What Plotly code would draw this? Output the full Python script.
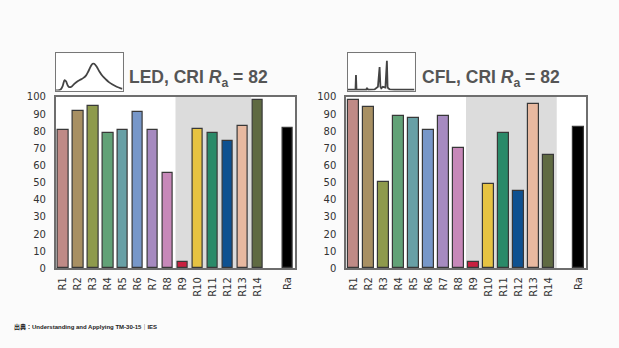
import plotly.graph_objects as go

# Colour rendering indices R1..R14 and the general index Ra
labels = ["R1", "R2", "R3", "R4", "R5", "R6", "R7", "R8", "R9", "R10",
          "R11", "R12", "R13", "R14", "Ra"]
led_values = [80.5, 92, 95, 79, 81, 91, 80.5, 55.5, 4, 81.5, 79, 74.5, 83, 98, 82]
cfl_values = [98.5, 94, 50.5, 89, 87.5, 80.5, 89, 70.5, 4, 49, 79, 45, 96, 66, 82.5]
bar_colors = ["#bf8a86", "#a89063", "#8e9a4c", "#62a277", "#68a0a6", "#7797c9",
              "#a68ac0", "#c788b9", "#c8203f", "#e6c342", "#2a8a69", "#0e5190",
              "#e8b9a0", "#5f6a42", "#000000"]
y_ticks = [0, 10, 20, 30, 40, 50, 60, 70, 80, 90, 100]

# Relative spectral power distributions for the small thumbnails
led_wl = [380, 400, 410, 420, 432, 440, 450, 460, 475, 490, 510, 530, 545, 560,
          575, 590, 600, 610, 625, 640, 660, 680, 700, 720, 745, 770, 780]
led_spd = [0.0, 0.01, 0.04, 0.12, 0.28, 0.25, 0.14, 0.09, 0.11, 0.18, 0.25, 0.3,
           0.34, 0.4, 0.52, 0.66, 0.72, 0.72, 0.64, 0.52, 0.39, 0.3, 0.22, 0.16,
           0.1, 0.06, 0.05]
cfl_wl = [380, 420, 425, 428, 431, 436, 470, 490, 494, 498, 502, 540, 560, 570, 575,
          580, 585, 590, 605, 614, 618, 622, 632, 660, 780]
cfl_spd = [0.02, 0.02, 0.02, 0.42, 0.02, 0.02, 0.02, 0.02, 0.07, 0.03, 0.02, 0.03,
           0.1, 0.63, 0.1, 0.06, 0.08, 0.1, 0.08, 0.8, 0.1, 0.06, 0.03, 0.02, 0.02]

titles = ["<b>LED, CRI <i>R</i><sub>a</sub> = 82</b>",
          "<b>CFL, CRI <i>R</i><sub>a</sub> = 82</b>"]

# Ra sits one slot after R14
positions = list(range(1, 15)) + [16]

W, H = 619, 348
fig = go.Figure()

panels = [
    dict(values=led_values, xd=(55.7, 295.3), box=(56, 122.5), shade=(8.5, 13.55),
         wl=led_wl, spd=led_spd, shape="spline", title=titles[0], tx=127),
    dict(values=cfl_values, xd=(346, 586), box=(348, 414.5), shade=(8.5, 14.55),
         wl=cfl_wl, spd=cfl_spd, shape="linear", title=titles[1], tx=420),
]

ydom = (1 - 272 / H, 1 - 95 / H)
box_y = (1 - 88.3 / H, 1 - 50 / H)

for i, p in enumerate(panels):
    n = 2 * i + 1
    xa, ya = ("x" if n == 1 else f"x{n}"), ("y" if n == 1 else f"y{n}")
    xs, ys = f"x{n + 1}", f"y{n + 1}"
    fig.add_trace(go.Bar(
        x=positions, y=p["values"], width=0.68,
        marker=dict(color=bar_colors, line=dict(color="#383838", width=1.2)),
        xaxis=xa, yaxis=ya, showlegend=False,
    ))
    fig.add_trace(go.Scatter(
        x=p["wl"], y=p["spd"], mode="lines",
        line=dict(color="#444444", width=1.8, shape=p["shape"]),
        xaxis=xs, yaxis=ys, showlegend=False,
    ))
    axk = "xaxis" if n == 1 else f"xaxis{n}"
    ayk = "yaxis" if n == 1 else f"yaxis{n}"
    fig.update_layout({
        axk: dict(domain=[p["xd"][0] / W, p["xd"][1] / W], range=[0.5, 16.5],
                  tickvals=positions, ticktext=labels, tickangle=-90,
                  showline=True, mirror=True, linecolor="#6e6e6e", linewidth=1.5,
                  showgrid=False, zeroline=False, anchor=ya, ticks="",
                  ticklabelstandoff=3,
                  tickfont=dict(family="DejaVu Sans", size=10, color="#333333")),
        ayk: dict(domain=list(ydom), range=[0, 100], tickvals=y_ticks,
                  showline=True, mirror=True, linecolor="#6e6e6e", linewidth=1.5,
                  showgrid=False, zeroline=False, anchor=xa, ticks="",
                  ticklabelstandoff=6,
                  tickfont=dict(family="DejaVu Sans", size=10, color="#333333")),
        f"xaxis{n + 1}": dict(domain=[p["box"][0] / W, p["box"][1] / W], range=[380, 780],
                              showline=True, mirror=True, linecolor="#777777", linewidth=1.2,
                              showticklabels=False, showgrid=False, zeroline=False,
                              ticks="", anchor=ys),
        f"yaxis{n + 1}": dict(domain=list(box_y), range=[0, 1],
                              showline=True, mirror=True, linecolor="#777777", linewidth=1.2,
                              showticklabels=False, showgrid=False, zeroline=False,
                              ticks="", anchor=xs),
    })
    fig.add_shape(type="rect", xref=xa, yref=ya, x0=p["shade"][0], x1=p["shade"][1],
                  y0=0, y1=100, fillcolor="#dcdcdc", line=dict(width=0), layer="below")
    fig.add_annotation(text=p["title"], xref="paper", yref="paper",
                       x=p["tx"] / W, y=1 - 90 / H, xanchor="left", yanchor="bottom",
                       showarrow=False,
                       font=dict(family="Liberation Sans", size=17.5, color="#555555"))

fig.add_annotation(text="<b>出典：Understanding and Applying TM-30-15｜IES</b>",
                   xref="paper", yref="paper", x=12 / W, y=1 - 333 / H,
                   xanchor="left", yanchor="middle", showarrow=False,
                   font=dict(family="Liberation Sans, Noto Sans CJK JP", size=6,
                             color="#222222"))

fig.update_layout(width=W, height=H, margin=dict(l=0, r=0, t=0, b=0),
                  paper_bgcolor="#fbfbfb", plot_bgcolor="#ffffff", bargap=0)

fig.write_html("out.html")
